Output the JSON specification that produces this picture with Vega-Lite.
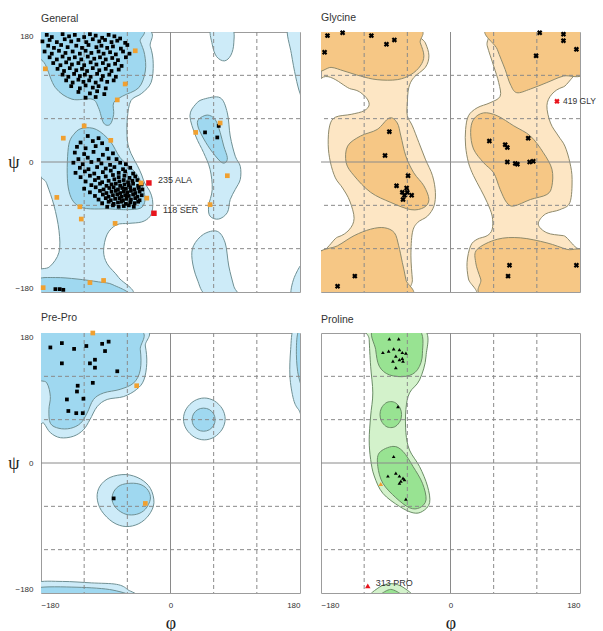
{
"$schema":"https://vega.github.io/schema/vega-lite/v6.json",
"background":"white",
"padding":{"left":7,"top":12,"right":0,"bottom":30},
"bounds":"flush",
"columns":2,
"spacing":{"row":41,"column":21},
"config":{"view":{"stroke":"#9c9c9c","strokeWidth":1},"font":"Liberation Sans"},
"datasets":{
"gv":[{"phi":-120,"k":"d"},{"phi":-60,"k":"d"},{"phi":0,"k":"s"},{"phi":60,"k":"d"},{"phi":120,"k":"d"}],
"gh":[{"psi":-120,"k":"d"},{"psi":-60,"k":"d"},{"psi":0,"k":"s"},{"psi":60,"k":"d"},{"psi":120,"k":"d"}],
"go":[
{"id":"a","phi":-185,"psi":185},{"id":"a","phi":-40,"psi":185},{"id":"a","phi":-28,"psi":160},{"id":"a","phi":-24,"psi":136},{"id":"a","phi":-27,"psi":110},{"id":"a","phi":-40,"psi":95},{"id":"a","phi":-55,"psi":85},{"id":"a","phi":-60,"psi":60},{"id":"a","phi":-60,"psi":30},{"id":"a","phi":-55,"psi":12},{"id":"a","phi":-46,"psi":-5},{"id":"a","phi":-40,"psi":-18},{"id":"a","phi":-36,"psi":-29},{"id":"a","phi":-29,"psi":-40},{"id":"a","phi":-25,"psi":-52},{"id":"a","phi":-25,"psi":-65},{"id":"a","phi":-29,"psi":-76},{"id":"a","phi":-40,"psi":-83},{"id":"a","phi":-58,"psi":-85},{"id":"a","phi":-75,"psi":-87},{"id":"a","phi":-88,"psi":-100},{"id":"a","phi":-93,"psi":-123},{"id":"a","phi":-88,"psi":-141},{"id":"a","phi":-72,"psi":-160},{"id":"a","phi":-58,"psi":-185},{"id":"a","phi":-185,"psi":-185},{"id":"a","phi":-185,"psi":-152},{"id":"a","phi":-168,"psi":-145},{"id":"a","phi":-155,"psi":-125},{"id":"a","phi":-155,"psi":-95},{"id":"a","phi":-162,"psi":-60},{"id":"a","phi":-172,"psi":-30},{"id":"a","phi":-185,"psi":5},
{"id":"b","phi":46,"psi":87},{"id":"b","phi":69,"psi":89},{"id":"b","phi":79,"psi":68},{"id":"b","phi":83,"psi":36},{"id":"b","phi":90,"psi":8},{"id":"b","phi":97,"psi":-6},{"id":"b","phi":97,"psi":-24},{"id":"b","phi":90,"psi":-38},{"id":"b","phi":83,"psi":-52},{"id":"b","phi":79,"psi":-70},{"id":"b","phi":67,"psi":-79},{"id":"b","phi":55,"psi":-75},{"id":"b","phi":53,"psi":-61},{"id":"b","phi":58,"psi":-38},{"id":"b","phi":55,"psi":-10},{"id":"b","phi":46,"psi":13},{"id":"b","phi":35,"psi":36},{"id":"b","phi":27,"psi":64},{"id":"b","phi":35,"psi":80},
{"id":"c","phi":57,"psi":185},{"id":"c","phi":85,"psi":185},{"id":"c","phi":88,"psi":165},{"id":"c","phi":84,"psi":148},{"id":"c","phi":75,"psi":140},{"id":"c","phi":64,"psi":146},{"id":"c","phi":58,"psi":163},
{"id":"d","phi":51,"psi":-185},{"id":"d","phi":37,"psi":-162},{"id":"d","phi":30,"psi":-135},{"id":"d","phi":32,"psi":-116},{"id":"d","phi":46,"psi":-100},{"id":"d","phi":65,"psi":-96},{"id":"d","phi":76,"psi":-112},{"id":"d","phi":81,"psi":-144},{"id":"d","phi":88,"psi":-172},{"id":"d","phi":92,"psi":-185},
{"id":"e","phi":163,"psi":185},{"id":"e","phi":168,"psi":150},{"id":"e","phi":174,"psi":118},{"id":"e","phi":180,"psi":95},{"id":"e","phi":186,"psi":85},{"id":"e","phi":186,"psi":185},
{"id":"f","phi":186,"psi":-140},{"id":"f","phi":172,"psi":-160},{"id":"f","phi":168,"psi":-186},{"id":"f","phi":186,"psi":-186}
],
"gi":[
{"id":"a","phi":-185,"psi":185},{"id":"a","phi":-48,"psi":185},{"id":"a","phi":-42,"psi":167},{"id":"a","phi":-36,"psi":149},{"id":"a","phi":-35,"psi":126},{"id":"a","phi":-44,"psi":103},{"id":"a","phi":-67,"psi":91},{"id":"a","phi":-79,"psi":82},{"id":"a","phi":-79,"psi":66},{"id":"a","phi":-84,"psi":52},{"id":"a","phi":-93,"psi":54},{"id":"a","phi":-100,"psi":75},{"id":"a","phi":-109,"psi":87},{"id":"a","phi":-137,"psi":87},{"id":"a","phi":-160,"psi":103},{"id":"a","phi":-174,"psi":135},{"id":"a","phi":-185,"psi":150},
{"id":"b","phi":-133,"psi":40},{"id":"b","phi":-121,"psi":47},{"id":"b","phi":-103,"psi":45},{"id":"b","phi":-84,"psi":29},{"id":"b","phi":-70,"psi":6},{"id":"b","phi":-55,"psi":-8},{"id":"b","phi":-45,"psi":-20},{"id":"b","phi":-40,"psi":-32},{"id":"b","phi":-36,"psi":-45},{"id":"b","phi":-36,"psi":-56},{"id":"b","phi":-42,"psi":-64},{"id":"b","phi":-60,"psi":-66},{"id":"b","phi":-84,"psi":-65},{"id":"b","phi":-126,"psi":-62},{"id":"b","phi":-142,"psi":-36},{"id":"b","phi":-142,"psi":20},
{"id":"c","phi":39,"psi":59},{"id":"c","phi":51,"psi":65},{"id":"c","phi":62,"psi":59},{"id":"c","phi":69,"psi":41},{"id":"c","phi":74,"psi":22},{"id":"c","phi":79,"psi":6},{"id":"c","phi":76,"psi":-1},{"id":"c","phi":69,"psi":1},{"id":"c","phi":55,"psi":18},{"id":"c","phi":44,"psi":36},{"id":"c","phi":38,"psi":50},
{"id":"d","phi":-185,"psi":-185},{"id":"d","phi":-185,"psi":-163},{"id":"d","phi":-160,"psi":-160},{"id":"d","phi":-130,"psi":-162},{"id":"d","phi":-100,"psi":-166},{"id":"d","phi":-80,"psi":-170},{"id":"d","phi":-64,"psi":-185}
],
"gp":[
{"phi":-172,"psi":176,"c":"f"},{"phi":-165,"psi":173,"c":"f"},{"phi":-150,"psi":177,"c":"f"},{"phi":-141,"psi":174,"c":"f"},{"phi":-133,"psi":176,"c":"f"},{"phi":-120,"psi":173,"c":"f"},{"phi":-112,"psi":177,"c":"f"},{"phi":-104,"psi":175,"c":"f"},{"phi":-95,"psi":172,"c":"f"},{"phi":-86,"psi":176,"c":"f"},{"phi":-78,"psi":174,"c":"f"},{"phi":-70,"psi":171,"c":"f"},
{"phi":-178,"psi":167,"c":"f"},{"phi":-168,"psi":169,"c":"f"},{"phi":-158,"psi":166,"c":"f"},{"phi":-147,"psi":170,"c":"f"},{"phi":-138,"psi":167,"c":"f"},{"phi":-128,"psi":169,"c":"f"},{"phi":-117,"psi":166,"c":"f"},{"phi":-108,"psi":170,"c":"f"},{"phi":-99,"psi":167,"c":"f"},{"phi":-91,"psi":169,"c":"f"},{"phi":-82,"psi":166,"c":"f"},{"phi":-74,"psi":168,"c":"f"},{"phi":-63,"psi":165,"c":"f"},
{"phi":-170,"psi":161,"c":"f"},{"phi":-162,"psi":158,"c":"f"},{"phi":-152,"psi":162,"c":"f"},{"phi":-143,"psi":159,"c":"f"},{"phi":-131,"psi":161,"c":"f"},{"phi":-123,"psi":158,"c":"f"},{"phi":-114,"psi":162,"c":"f"},{"phi":-103,"psi":159,"c":"f"},{"phi":-96,"psi":161,"c":"f"},{"phi":-88,"psi":158,"c":"f"},{"phi":-80,"psi":160,"c":"f"},{"phi":-69,"psi":157,"c":"f"},{"phi":-60,"psi":162,"c":"f"},
{"phi":-175,"psi":153,"c":"f"},{"phi":-165,"psi":150,"c":"f"},{"phi":-155,"psi":154,"c":"f"},{"phi":-146,"psi":151,"c":"f"},{"phi":-136,"psi":153,"c":"f"},{"phi":-126,"psi":150,"c":"f"},{"phi":-118,"psi":154,"c":"f"},{"phi":-110,"psi":151,"c":"f"},{"phi":-100,"psi":153,"c":"f"},{"phi":-93,"psi":150,"c":"f"},{"phi":-84,"psi":152,"c":"f"},{"phi":-76,"psi":149,"c":"f"},{"phi":-66,"psi":153,"c":"f"},{"phi":-57,"psi":150,"c":"f"},
{"phi":-168,"psi":145,"c":"f"},{"phi":-158,"psi":142,"c":"f"},{"phi":-150,"psi":146,"c":"f"},{"phi":-141,"psi":143,"c":"f"},{"phi":-133,"psi":145,"c":"f"},{"phi":-124,"psi":142,"c":"f"},{"phi":-115,"psi":146,"c":"f"},{"phi":-106,"psi":143,"c":"f"},{"phi":-98,"psi":145,"c":"f"},{"phi":-90,"psi":142,"c":"f"},{"phi":-81,"psi":144,"c":"f"},{"phi":-73,"psi":141,"c":"f"},{"phi":-62,"psi":145,"c":"f"},
{"phi":-163,"psi":137,"c":"f"},{"phi":-153,"psi":134,"c":"f"},{"phi":-145,"psi":138,"c":"f"},{"phi":-137,"psi":135,"c":"f"},{"phi":-128,"psi":137,"c":"f"},{"phi":-120,"psi":134,"c":"f"},{"phi":-111,"psi":138,"c":"f"},{"phi":-103,"psi":135,"c":"f"},{"phi":-94,"psi":137,"c":"f"},{"phi":-86,"psi":134,"c":"f"},{"phi":-77,"psi":136,"c":"f"},{"phi":-68,"psi":133,"c":"f"},
{"phi":-157,"psi":129,"c":"f"},{"phi":-148,"psi":126,"c":"f"},{"phi":-140,"psi":130,"c":"f"},{"phi":-131,"psi":127,"c":"f"},{"phi":-123,"psi":129,"c":"f"},{"phi":-116,"psi":126,"c":"f"},{"phi":-108,"psi":130,"c":"f"},{"phi":-99,"psi":127,"c":"f"},{"phi":-90,"psi":129,"c":"f"},{"phi":-82,"psi":126,"c":"f"},{"phi":-72,"psi":128,"c":"f"},
{"phi":-150,"psi":121,"c":"f"},{"phi":-142,"psi":118,"c":"f"},{"phi":-134,"psi":122,"c":"f"},{"phi":-126,"psi":119,"c":"f"},{"phi":-119,"psi":121,"c":"f"},{"phi":-111,"psi":118,"c":"f"},{"phi":-102,"psi":122,"c":"f"},{"phi":-94,"psi":119,"c":"f"},{"phi":-85,"psi":121,"c":"f"},{"phi":-76,"psi":118,"c":"f"},
{"phi":-145,"psi":113,"c":"f"},{"phi":-136,"psi":110,"c":"f"},{"phi":-128,"psi":114,"c":"f"},{"phi":-121,"psi":111,"c":"f"},{"phi":-113,"psi":113,"c":"f"},{"phi":-104,"psi":110,"c":"f"},{"phi":-96,"psi":114,"c":"f"},{"phi":-88,"psi":111,"c":"f"},{"phi":-79,"psi":113,"c":"f"},
{"phi":-138,"psi":105,"c":"f"},{"phi":-126,"psi":102,"c":"f"},{"phi":-118,"psi":106,"c":"f"},{"phi":-108,"psi":103,"c":"f"},{"phi":-100,"psi":105,"c":"f"},{"phi":-90,"psi":102,"c":"f"},
{"phi":-128,"psi":97,"c":"f"},{"phi":-112,"psi":95,"c":"f"},{"phi":-102,"psi":98,"c":"f"},{"phi":-92,"psi":94,"c":"f"},{"phi":-118,"psi":89,"c":"f"},{"phi":-104,"psi":90,"c":"f"},
{"phi":-115,"psi":36,"c":"f"},{"phi":-100,"psi":33,"c":"f"},
{"phi":-125,"psi":27,"c":"f"},{"phi":-108,"psi":29,"c":"f"},{"phi":-95,"psi":26,"c":"f"},
{"phi":-130,"psi":21,"c":"f"},{"phi":-118,"psi":19,"c":"f"},{"phi":-104,"psi":22,"c":"f"},{"phi":-88,"psi":18,"c":"f"},
{"phi":-133,"psi":13,"c":"f"},{"phi":-120,"psi":11,"c":"f"},{"phi":-107,"psi":14,"c":"f"},{"phi":-94,"psi":10,"c":"f"},{"phi":-80,"psi":12,"c":"f"},
{"phi":-128,"psi":4,"c":"f"},{"phi":-115,"psi":6,"c":"f"},{"phi":-100,"psi":3,"c":"f"},{"phi":-86,"psi":5,"c":"f"},{"phi":-75,"psi":4,"c":"f"},
{"phi":-135,"psi":-1,"c":"f"},{"phi":-122,"psi":-3,"c":"f"},{"phi":-110,"psi":0,"c":"f"},{"phi":-96,"psi":-2,"c":"f"},{"phi":-84,"psi":-4,"c":"f"},{"phi":-70,"psi":-1,"c":"f"},{"phi":-62,"psi":-3,"c":"f"},
{"phi":-126,"psi":-8,"c":"f"},{"phi":-114,"psi":-10,"c":"f"},{"phi":-102,"psi":-7,"c":"f"},{"phi":-90,"psi":-9,"c":"f"},{"phi":-78,"psi":-7,"c":"f"},{"phi":-66,"psi":-10,"c":"f"},{"phi":-56,"psi":-8,"c":"f"},
{"phi":-132,"psi":-15,"c":"f"},{"phi":-119,"psi":-13,"c":"f"},{"phi":-106,"psi":-16,"c":"f"},{"phi":-94,"psi":-14,"c":"f"},{"phi":-83,"psi":-12,"c":"f"},{"phi":-72,"psi":-15,"c":"f"},{"phi":-63,"psi":-13,"c":"f"},{"phi":-52,"psi":-16,"c":"f"},
{"phi":-125,"psi":-21,"c":"f"},{"phi":-112,"psi":-19,"c":"f"},{"phi":-100,"psi":-22,"c":"f"},{"phi":-90,"psi":-20,"c":"f"},{"phi":-80,"psi":-18,"c":"f"},{"phi":-72,"psi":-21,"c":"f"},{"phi":-64,"psi":-19,"c":"f"},{"phi":-57,"psi":-22,"c":"f"},{"phi":-49,"psi":-20,"c":"f"},
{"phi":-118,"psi":-27,"c":"f"},{"phi":-105,"psi":-25,"c":"f"},{"phi":-95,"psi":-28,"c":"f"},{"phi":-86,"psi":-26,"c":"f"},{"phi":-78,"psi":-24,"c":"f"},{"phi":-71,"psi":-27,"c":"f"},{"phi":-65,"psi":-25,"c":"f"},{"phi":-59,"psi":-28,"c":"f"},{"phi":-53,"psi":-26,"c":"f"},{"phi":-46,"psi":-25,"c":"f"},
{"phi":-110,"psi":-32,"c":"f"},{"phi":-98,"psi":-30,"c":"f"},{"phi":-89,"psi":-33,"c":"f"},{"phi":-82,"psi":-31,"c":"f"},{"phi":-76,"psi":-30,"c":"f"},{"phi":-70,"psi":-33,"c":"f"},{"phi":-64,"psi":-31,"c":"f"},{"phi":-58,"psi":-32,"c":"f"},{"phi":-52,"psi":-30,"c":"f"},{"phi":-45,"psi":-33,"c":"f"},{"phi":-40,"psi":-31,"c":"f"},
{"phi":-120,"psi":-37,"c":"f"},{"phi":-104,"psi":-35,"c":"f"},{"phi":-93,"psi":-38,"c":"f"},{"phi":-85,"psi":-36,"c":"f"},{"phi":-79,"psi":-35,"c":"f"},{"phi":-73,"psi":-38,"c":"f"},{"phi":-67,"psi":-36,"c":"f"},{"phi":-62,"psi":-37,"c":"f"},{"phi":-56,"psi":-35,"c":"f"},{"phi":-50,"psi":-38,"c":"f"},{"phi":-44,"psi":-36,"c":"f"},{"phi":-39,"psi":-38,"c":"f"},
{"phi":-112,"psi":-42,"c":"f"},{"phi":-98,"psi":-40,"c":"f"},{"phi":-89,"psi":-43,"c":"f"},{"phi":-82,"psi":-41,"c":"f"},{"phi":-76,"psi":-40,"c":"f"},{"phi":-70,"psi":-43,"c":"f"},{"phi":-65,"psi":-41,"c":"f"},{"phi":-60,"psi":-42,"c":"f"},{"phi":-55,"psi":-40,"c":"f"},{"phi":-49,"psi":-43,"c":"f"},{"phi":-43,"psi":-41,"c":"f"},
{"phi":-105,"psi":-47,"c":"f"},{"phi":-94,"psi":-45,"c":"f"},{"phi":-86,"psi":-48,"c":"f"},{"phi":-80,"psi":-46,"c":"f"},{"phi":-74,"psi":-45,"c":"f"},{"phi":-68,"psi":-48,"c":"f"},{"phi":-63,"psi":-46,"c":"f"},{"phi":-58,"psi":-47,"c":"f"},{"phi":-52,"psi":-45,"c":"f"},{"phi":-46,"psi":-48,"c":"f"},{"phi":-40,"psi":-46,"c":"f"},
{"phi":-100,"psi":-52,"c":"f"},{"phi":-90,"psi":-50,"c":"f"},{"phi":-83,"psi":-53,"c":"f"},{"phi":-77,"psi":-51,"c":"f"},{"phi":-71,"psi":-50,"c":"f"},{"phi":-66,"psi":-53,"c":"f"},{"phi":-61,"psi":-51,"c":"f"},{"phi":-55,"psi":-52,"c":"f"},{"phi":-49,"psi":-50,"c":"f"},{"phi":-43,"psi":-53,"c":"f"},
{"phi":-95,"psi":-57,"c":"f"},{"phi":-86,"psi":-55,"c":"f"},{"phi":-79,"psi":-58,"c":"f"},{"phi":-73,"psi":-56,"c":"f"},{"phi":-68,"psi":-55,"c":"f"},{"phi":-62,"psi":-58,"c":"f"},{"phi":-56,"psi":-56,"c":"f"},{"phi":-50,"psi":-57,"c":"f"},{"phi":-45,"psi":-55,"c":"f"},
{"phi":-88,"psi":-62,"c":"f"},{"phi":-80,"psi":-60,"c":"f"},{"phi":-72,"psi":-62,"c":"f"},{"phi":-65,"psi":-61,"c":"f"},{"phi":-58,"psi":-60,"c":"f"},{"phi":-51,"psi":-62,"c":"f"},
{"phi":-160,"psi":-176,"c":"f"},{"phi":-154,"psi":-176,"c":"f"},{"phi":-149,"psi":-177,"c":"f"},{"phi":48,"psi":41,"c":"f"},{"phi":65,"psi":34,"c":"f"},{"phi":67,"psi":50,"c":"f"},
{"phi":-49,"psi":154,"c":"a"},{"phi":-174,"psi":129,"c":"a"},{"phi":-63,"psi":108,"c":"a"},{"phi":-74,"psi":86,"c":"a"},{"phi":-120,"psi":50,"c":"a"},{"phi":-149,"psi":33,"c":"a"},{"phi":-83,"psi":30,"c":"a"},{"phi":-41,"psi":-29,"c":"a"},{"phi":-33,"psi":-50,"c":"a"},{"phi":-158,"psi":-49,"c":"a"},{"phi":-126,"psi":-62,"c":"a"},{"phi":-124,"psi":-79,"c":"a"},{"phi":-77,"psi":-85,"c":"a"},{"phi":-112,"psi":-167,"c":"a"},{"phi":-93,"psi":-164,"c":"a"},{"phi":-177,"psi":-174,"c":"a"},{"phi":35,"psi":41,"c":"a"},{"phi":69,"psi":54,"c":"a"},{"phi":79,"psi":-19,"c":"a"},{"phi":55,"psi":-59,"c":"a"},
{"phi":-30,"psi":-29,"c":"o","lab":"235 ALA"},{"phi":-23,"psi":-71,"c":"o","lab":"118 SER"}
],
"yw":[
{"id":"a","phi":-46,"psi":185},{"id":"a","phi":-35,"psi":165},{"id":"a","phi":-30,"psi":147},{"id":"a","phi":-35,"psi":131},{"id":"a","phi":-51,"psi":117},{"id":"a","phi":-58,"psi":103},{"id":"a","phi":-60,"psi":82},{"id":"a","phi":-60,"psi":64},{"id":"a","phi":-53,"psi":50},{"id":"a","phi":-44,"psi":27},{"id":"a","phi":-35,"psi":4},{"id":"a","phi":-25,"psi":-19},{"id":"a","phi":-21,"psi":-42},{"id":"a","phi":-23,"psi":-61},{"id":"a","phi":-32,"psi":-75},{"id":"a","phi":-46,"psi":-84},{"id":"a","phi":-53,"psi":-98},{"id":"a","phi":-55,"psi":-130},{"id":"a","phi":-53,"psi":-163},{"id":"a","phi":-51,"psi":-185},{"id":"a","phi":32,"psi":-185},{"id":"a","phi":25,"psi":-162},{"id":"a","phi":23,"psi":-139},{"id":"a","phi":28,"psi":-116},{"id":"a","phi":37,"psi":-107},{"id":"a","phi":51,"psi":-102},{"id":"a","phi":58,"psi":-93},{"id":"a","phi":58,"psi":-75},{"id":"a","phi":51,"psi":-56},{"id":"a","phi":42,"psi":-38},{"id":"a","phi":32,"psi":-19},{"id":"a","phi":25,"psi":-1},{"id":"a","phi":21,"psi":22},{"id":"a","phi":21,"psi":45},{"id":"a","phi":25,"psi":64},{"id":"a","phi":37,"psi":75},{"id":"a","phi":55,"psi":82},{"id":"a","phi":69,"psi":91},{"id":"a","phi":67,"psi":110},{"id":"a","phi":60,"psi":133},{"id":"a","phi":51,"psi":161},{"id":"a","phi":46,"psi":185},
{"id":"b","phi":-186,"psi":103},{"id":"b","phi":-138,"psi":101},{"id":"b","phi":-120,"psi":92},{"id":"b","phi":-113,"psi":80},{"id":"b","phi":-120,"psi":71},{"id":"b","phi":-138,"psi":66},{"id":"b","phi":-160,"psi":62},{"id":"b","phi":-168,"psi":50},{"id":"b","phi":-170,"psi":24},{"id":"b","phi":-167,"psi":0},{"id":"b","phi":-160,"psi":-22},{"id":"b","phi":-150,"psi":-36},{"id":"b","phi":-140,"psi":-54},{"id":"b","phi":-134,"psi":-78},{"id":"b","phi":-141,"psi":-94},{"id":"b","phi":-157,"psi":-104},{"id":"b","phi":-186,"psi":-108},
{"id":"c","phi":186,"psi":108},{"id":"c","phi":157,"psi":104},{"id":"c","phi":141,"psi":94},{"id":"c","phi":134,"psi":78},{"id":"c","phi":139,"psi":54},{"id":"c","phi":150,"psi":36},{"id":"c","phi":159,"psi":22},{"id":"c","phi":166,"psi":-1},{"id":"c","phi":169,"psi":-24},{"id":"c","phi":166,"psi":-56},{"id":"c","phi":152,"psi":-66},{"id":"c","phi":132,"psi":-72},{"id":"c","phi":122,"psi":-86},{"id":"c","phi":134,"psi":-98},{"id":"c","phi":157,"psi":-102},{"id":"c","phi":186,"psi":-105}
],
"yi":[
{"id":"a","phi":-186,"psi":186},{"id":"a","phi":-51,"psi":186},{"id":"a","phi":-42,"psi":165},{"id":"a","phi":-37,"psi":147},{"id":"a","phi":-42,"psi":133},{"id":"a","phi":-55,"psi":121},{"id":"a","phi":-74,"psi":114},{"id":"a","phi":-102,"psi":114},{"id":"a","phi":-125,"psi":119},{"id":"a","phi":-148,"psi":126},{"id":"a","phi":-166,"psi":131},{"id":"a","phi":-186,"psi":129},
{"id":"b","phi":-85,"psi":61},{"id":"b","phi":-74,"psi":54},{"id":"b","phi":-69,"psi":36},{"id":"b","phi":-62,"psi":8},{"id":"b","phi":-51,"psi":-15},{"id":"b","phi":-37,"psi":-33},{"id":"b","phi":-30,"psi":-52},{"id":"b","phi":-37,"psi":-63},{"id":"b","phi":-55,"psi":-66},{"id":"b","phi":-83,"psi":-56},{"id":"b","phi":-111,"psi":-42},{"id":"b","phi":-134,"psi":-19},{"id":"b","phi":-145,"psi":-1},{"id":"b","phi":-143,"psi":22},{"id":"b","phi":-125,"psi":36},{"id":"b","phi":-102,"psi":45},
{"id":"c","phi":-186,"psi":-130},{"id":"c","phi":-157,"psi":-116},{"id":"c","phi":-134,"psi":-102},{"id":"c","phi":-111,"psi":-93},{"id":"c","phi":-92,"psi":-91},{"id":"c","phi":-78,"psi":-98},{"id":"c","phi":-72,"psi":-116},{"id":"c","phi":-67,"psi":-139},{"id":"c","phi":-62,"psi":-163},{"id":"c","phi":-60,"psi":-186},{"id":"c","phi":-186,"psi":-186},
{"id":"d","phi":55,"psi":186},{"id":"d","phi":65,"psi":156},{"id":"d","phi":76,"psi":128},{"id":"d","phi":83,"psi":108},{"id":"d","phi":92,"psi":96},{"id":"d","phi":111,"psi":101},{"id":"d","phi":134,"psi":110},{"id":"d","phi":157,"psi":119},{"id":"d","phi":186,"psi":124},{"id":"d","phi":186,"psi":186},
{"id":"e","phi":32,"psi":59},{"id":"e","phi":46,"psi":68},{"id":"e","phi":65,"psi":64},{"id":"e","phi":88,"psi":50},{"id":"e","phi":111,"psi":36},{"id":"e","phi":129,"psi":13},{"id":"e","phi":141,"psi":-10},{"id":"e","phi":141,"psi":-33},{"id":"e","phi":134,"psi":-45},{"id":"e","phi":111,"psi":-52},{"id":"e","phi":88,"psi":-61},{"id":"e","phi":78,"psi":-56},{"id":"e","phi":69,"psi":-38},{"id":"e","phi":60,"psi":-15},{"id":"e","phi":46,"psi":-1},{"id":"e","phi":32,"psi":18},{"id":"e","phi":28,"psi":41},
{"id":"f","phi":51,"psi":-186},{"id":"f","phi":42,"psi":-162},{"id":"f","phi":35,"psi":-139},{"id":"f","phi":37,"psi":-121},{"id":"f","phi":65,"psi":-107},{"id":"f","phi":97,"psi":-105},{"id":"f","phi":134,"psi":-112},{"id":"f","phi":162,"psi":-121},{"id":"f","phi":186,"psi":-126},{"id":"f","phi":186,"psi":-186}
],
"yp":[
{"phi":-171,"psi":175,"c":"f"},{"phi":-150,"psi":179,"c":"f"},{"phi":-175,"psi":152,"c":"f"},{"phi":-110,"psi":175,"c":"f"},{"phi":-89,"psi":163,"c":"f"},{"phi":-78,"psi":169,"c":"f"},{"phi":-85,"psi":42,"c":"f"},{"phi":-91,"psi":9,"c":"f"},{"phi":-59,"psi":-19,"c":"f"},{"phi":-75,"psi":-33,"c":"f"},{"phi":-61,"psi":-36,"c":"f"},{"phi":-67,"psi":-42,"c":"f"},{"phi":-60,"psi":-42,"c":"f"},{"phi":-54,"psi":-46,"c":"f"},{"phi":-66,"psi":-52,"c":"f"},{"phi":-64,"psi":-46,"c":"f"},{"phi":-133,"psi":-158,"c":"f"},{"phi":-157,"psi":-172,"c":"f"},
{"phi":124,"psi":179,"c":"f"},{"phi":157,"psi":177,"c":"f"},{"phi":157,"psi":168,"c":"f"},{"phi":175,"psi":156,"c":"f"},{"phi":119,"psi":147,"c":"f"},{"phi":54,"psi":29,"c":"f"},{"phi":76,"psi":24,"c":"f"},{"phi":79,"psi":20,"c":"f"},{"phi":108,"psi":33,"c":"f"},{"phi":79,"psi":0,"c":"f"},{"phi":90,"psi":-2,"c":"f"},{"phi":93,"psi":-3,"c":"f"},{"phi":110,"psi":0,"c":"f"},{"phi":115,"psi":1,"c":"f"},{"phi":82,"psi":-143,"c":"f"},{"phi":80,"psi":-158,"c":"f"},{"phi":175,"psi":-143,"c":"f"},
{"phi":148,"psi":84,"c":"o","lab":"419 GLY"}
],
"po":[
{"id":"a","phi":-186,"psi":186},{"id":"a","phi":-42,"psi":186},{"id":"a","phi":-35,"psi":162},{"id":"a","phi":-33,"psi":138},{"id":"a","phi":-37,"psi":115},{"id":"a","phi":-47,"psi":102},{"id":"a","phi":-65,"psi":92},{"id":"a","phi":-88,"psi":88},{"id":"a","phi":-102,"psi":78},{"id":"a","phi":-112,"psi":60},{"id":"a","phi":-121,"psi":46},{"id":"a","phi":-135,"psi":37},{"id":"a","phi":-153,"psi":35},{"id":"a","phi":-167,"psi":42},{"id":"a","phi":-176,"psi":55},{"id":"a","phi":-186,"psi":65},
{"id":"b","phi":76,"psi":61},{"id":"b","phi":72,"psi":75},{"id":"b","phi":61,"psi":86},{"id":"b","phi":47,"psi":90},{"id":"b","phi":33,"psi":86},{"id":"b","phi":22,"psi":75},{"id":"b","phi":18,"psi":61},{"id":"b","phi":22,"psi":47},{"id":"b","phi":33,"psi":36},{"id":"b","phi":47,"psi":32},{"id":"b","phi":61,"psi":36},{"id":"b","phi":72,"psi":47},
{"id":"c","phi":-23,"psi":-55},{"id":"c","phi":-28,"psi":-35},{"id":"c","phi":-42,"psi":-22},{"id":"c","phi":-62,"psi":-16},{"id":"c","phi":-84,"psi":-20},{"id":"c","phi":-98,"psi":-32},{"id":"c","phi":-102,"psi":-48},{"id":"c","phi":-96,"psi":-66},{"id":"c","phi":-80,"psi":-82},{"id":"c","phi":-62,"psi":-88},{"id":"c","phi":-44,"psi":-84},{"id":"c","phi":-30,"psi":-72},
{"id":"d","phi":-186,"psi":-166},{"id":"d","phi":-150,"psi":-164},{"id":"d","phi":-110,"psi":-166},{"id":"d","phi":-75,"psi":-168},{"id":"d","phi":-60,"psi":-175},{"id":"d","phi":-55,"psi":-186},{"id":"d","phi":-186,"psi":-186},
{"id":"e","phi":186,"psi":186},{"id":"e","phi":171,"psi":186},{"id":"e","phi":167,"psi":157},{"id":"e","phi":166,"psi":120},{"id":"e","phi":171,"psi":88},{"id":"e","phi":178,"psi":74},{"id":"e","phi":186,"psi":70}
],
"pi":[
{"id":"a","phi":-186,"psi":186},{"id":"a","phi":-49,"psi":186},{"id":"a","phi":-42,"psi":157},{"id":"a","phi":-42,"psi":129},{"id":"a","phi":-51,"psi":111},{"id":"a","phi":-70,"psi":102},{"id":"a","phi":-93,"psi":97},{"id":"a","phi":-107,"psi":88},{"id":"a","phi":-116,"psi":69},{"id":"a","phi":-125,"psi":55},{"id":"a","phi":-139,"psi":48},{"id":"a","phi":-155,"psi":48},{"id":"a","phi":-167,"psi":55},{"id":"a","phi":-169,"psi":74},{"id":"a","phi":-167,"psi":92},{"id":"a","phi":-172,"psi":111},{"id":"a","phi":-186,"psi":122},
{"id":"b","phi":62,"psi":60},{"id":"b","phi":60,"psi":68},{"id":"b","phi":54,"psi":74},{"id":"b","phi":46,"psi":76},{"id":"b","phi":38,"psi":74},{"id":"b","phi":32,"psi":68},{"id":"b","phi":30,"psi":60},{"id":"b","phi":32,"psi":52},{"id":"b","phi":38,"psi":46},{"id":"b","phi":46,"psi":44},{"id":"b","phi":54,"psi":46},{"id":"b","phi":60,"psi":52},
{"id":"c","phi":-28,"psi":-50},{"id":"c","phi":-31,"psi":-38},{"id":"c","phi":-41,"psi":-30},{"id":"c","phi":-55,"psi":-28},{"id":"c","phi":-70,"psi":-31},{"id":"c","phi":-79,"psi":-40},{"id":"c","phi":-81,"psi":-52},{"id":"c","phi":-75,"psi":-63},{"id":"c","phi":-62,"psi":-71},{"id":"c","phi":-47,"psi":-71},{"id":"c","phi":-35,"psi":-64},
{"id":"d","phi":-186,"psi":-173},{"id":"d","phi":-130,"psi":-172},{"id":"d","phi":-80,"psi":-176},{"id":"d","phi":-62,"psi":-186},{"id":"d","phi":-186,"psi":-186},
{"id":"e","phi":186,"psi":186},{"id":"e","phi":177,"psi":180},{"id":"e","phi":175,"psi":150},{"id":"e","phi":178,"psi":120},{"id":"e","phi":186,"psi":105}
],
"pp":[
{"phi":-167,"psi":160,"c":"f"},{"phi":-151,"psi":166,"c":"f"},{"phi":-134,"psi":158,"c":"f"},{"phi":-117,"psi":162,"c":"f"},{"phi":-95,"psi":165,"c":"f"},{"phi":-86,"psi":168,"c":"f"},{"phi":-91,"psi":155,"c":"f"},{"phi":-151,"psi":138,"c":"f"},{"phi":-112,"psi":138,"c":"f"},{"phi":-105,"psi":143,"c":"f"},{"phi":-105,"psi":132,"c":"f"},{"phi":-74,"psi":127,"c":"f"},{"phi":-129,"psi":107,"c":"f"},{"phi":-130,"psi":99,"c":"f"},{"phi":-108,"psi":111,"c":"f"},{"phi":-144,"psi":88,"c":"f"},{"phi":-121,"psi":89,"c":"f"},{"phi":-142,"psi":72,"c":"f"},{"phi":-131,"psi":69,"c":"f"},{"phi":-122,"psi":69,"c":"f"},{"phi":-79,"psi":-49,"c":"f"},
{"phi":-108,"psi":180,"c":"a"},{"phi":-47,"psi":107,"c":"a"},{"phi":-35,"psi":-56,"c":"a"}
],
"ro":[
{"id":"a","phi":-39,"psi":186},{"id":"a","phi":-34,"psi":148},{"id":"a","phi":-43,"psi":115},{"id":"a","phi":-57,"psi":97},{"id":"a","phi":-62,"psi":74},{"id":"a","phi":-62,"psi":42},{"id":"a","phi":-57,"psi":18},{"id":"a","phi":-43,"psi":-5},{"id":"a","phi":-32,"psi":-32},{"id":"a","phi":-29,"psi":-55},{"id":"a","phi":-39,"psi":-67},{"id":"a","phi":-52,"psi":-69},{"id":"a","phi":-71,"psi":-60},{"id":"a","phi":-94,"psi":-42},{"id":"a","phi":-106,"psi":-18},{"id":"a","phi":-111,"psi":5},{"id":"a","phi":-113,"psi":32},{"id":"a","phi":-111,"psi":65},{"id":"a","phi":-108,"psi":97},{"id":"a","phi":-111,"psi":134},{"id":"a","phi":-113,"psi":171},{"id":"a","phi":-113,"psi":186},
{"id":"b","phi":-110,"psi":-186},{"id":"b","phi":-99,"psi":-172},{"id":"b","phi":-83,"psi":-167},{"id":"b","phi":-66,"psi":-172},{"id":"b","phi":-55,"psi":-186}
],
"ri":[
{"id":"a","phi":-106,"psi":186},{"id":"a","phi":-46,"psi":186},{"id":"a","phi":-39,"psi":152},{"id":"a","phi":-46,"psi":129},{"id":"a","phi":-62,"psi":120},{"id":"a","phi":-85,"psi":122},{"id":"a","phi":-99,"psi":134},{"id":"a","phi":-104,"psi":157},
{"id":"b","phi":-68,"psi":67},{"id":"b","phi":-70,"psi":76},{"id":"b","phi":-76,"psi":83},{"id":"b","phi":-83,"psi":85},{"id":"b","phi":-90,"psi":83},{"id":"b","phi":-96,"psi":76},{"id":"b","phi":-98,"psi":67},{"id":"b","phi":-96,"psi":58},{"id":"b","phi":-90,"psi":51},{"id":"b","phi":-83,"psi":49},{"id":"b","phi":-76,"psi":51},{"id":"b","phi":-70,"psi":58},
{"id":"c","phi":-80,"psi":23},{"id":"c","phi":-66,"psi":16},{"id":"c","phi":-52,"psi":-5},{"id":"c","phi":-39,"psi":-28},{"id":"c","phi":-34,"psi":-51},{"id":"c","phi":-43,"psi":-62},{"id":"c","phi":-57,"psi":-62},{"id":"c","phi":-76,"psi":-48},{"id":"c","phi":-94,"psi":-28},{"id":"c","phi":-101,"psi":-5},{"id":"c","phi":-99,"psi":14},
{"id":"d","phi":-99,"psi":-186},{"id":"d","phi":-83,"psi":-175},{"id":"d","phi":-66,"psi":-186}
],
"rp":[
{"phi":-85,"psi":172,"c":"f"},{"phi":-72,"psi":172,"c":"f"},{"phi":-94,"psi":153,"c":"f"},{"phi":-86,"psi":155,"c":"f"},{"phi":-79,"psi":158,"c":"f"},{"phi":-71,"psi":157,"c":"f"},{"phi":-67,"psi":153,"c":"f"},{"phi":-62,"psi":152,"c":"f"},{"phi":-76,"psi":148,"c":"f"},{"phi":-71,"psi":143,"c":"f"},{"phi":-67,"psi":145,"c":"f"},{"phi":-76,"psi":132,"c":"f"},{"phi":-80,"psi":141,"c":"f"},{"phi":-66,"psi":141,"c":"f"},{"phi":-73,"psi":78,"c":"f"},{"phi":-79,"psi":9,"c":"f"},{"phi":-87,"psi":-18,"c":"f"},{"phi":-76,"psi":-14,"c":"f"},{"phi":-71,"psi":-18,"c":"f"},{"phi":-66,"psi":-21,"c":"f"},{"phi":-69,"psi":-25,"c":"f"},{"phi":-64,"psi":-23,"c":"f"},{"phi":-71,"psi":-28,"c":"f"},{"phi":-62,"psi":-50,"c":"f"},
{"phi":-97,"psi":-29,"c":"a"},{"phi":-115,"psi":-170,"c":"o","lab":"313 PRO"}
]
},
"concat":[
{"width":259,"height":260,
"title":{"text":"General","anchor":"start","frame":"group","fontSize":10.5,"fontWeight":"normal","font":"Liberation Sans","color":"#333","offset":7},
"layer":[
{"data":{"name":"go"},"mark":{"type":"line","interpolate":"cardinal-closed","fill":"#cdebf8","stroke":"#6f9094","strokeWidth":1,"clip":true},
"encoding":{"x":{"field":"phi","type":"quantitative","scale":{"domain":[-180,180],"nice":false,"zero":false},"axis":null},
"y":{"field":"psi","type":"quantitative","scale":{"domain":[-180,180],"nice":false,"zero":false},"axis":{"values":[-180,0,180],"grid":false,"ticks":false,"domain":false,"labelFontSize":8,"labelColor":"#333","labelPadding":8,"labelFlush":true,"title":"ψ","titleAngle":0,"titleFontSize":18,"titleFont":"Liberation Serif","titleFontWeight":"normal","titleColor":"#222","titlePadding":-4,"titleAlign":"right","titleBaseline":"middle"}},
"detail":{"field":"id"},"order":{"value":null}}},
{"data":{"name":"gi"},"mark":{"type":"line","interpolate":"cardinal-closed","fill":"#9fd8f0","stroke":"#6f9094","strokeWidth":1,"clip":true},
"encoding":{"x":{"field":"phi","type":"quantitative","axis":null},"y":{"field":"psi","type":"quantitative"},"detail":{"field":"id"},"order":{"value":null}}},
{"data":{"name":"gv"},"mark":{"type":"rule","color":"#8a8a8a","strokeWidth":1},"encoding":{"x":{"field":"phi","type":"quantitative","axis":null},"strokeDash":{"field":"k","type":"nominal","scale":{"domain":["d","s"],"range":[[4,3],[1,0]]},"legend":null}}},
{"data":{"name":"gh"},"mark":{"type":"rule","color":"#8a8a8a","strokeWidth":1},"encoding":{"y":{"field":"psi","type":"quantitative"},"strokeDash":{"field":"k","type":"nominal","legend":null}}},
{"data":{"name":"gp"},"mark":{"type":"point","shape":"square","filled":true,"opacity":1},
"encoding":{"x":{"field":"phi","type":"quantitative","axis":null},"y":{"field":"psi","type":"quantitative"},
"color":{"field":"c","type":"nominal","scale":{"domain":["f","a","o"],"range":["#000000","#f0a030","#e8141c"]},"legend":null},
"size":{"field":"c","type":"nominal","scale":{"domain":["f","a","o"],"range":[14,30,30]},"legend":null}}},
{"data":{"name":"gp"},"transform":[{"filter":"isValid(datum.lab)"}],"mark":{"type":"text","align":"left","baseline":"middle","dx":9,"dy":-3,"fontSize":9,"font":"Liberation Sans","color":"#333"},
"encoding":{"x":{"field":"phi","type":"quantitative","axis":null},"y":{"field":"psi","type":"quantitative"},"text":{"field":"lab"}}}
]},
{"width":259,"height":260,
"title":{"text":"Glycine","anchor":"start","frame":"group","fontSize":10.5,"fontWeight":"normal","font":"Liberation Sans","color":"#333","offset":7},
"view":{"fill":"#fde6c4"},
"layer":[
{"data":{"name":"yw"},"mark":{"type":"line","interpolate":"cardinal-closed","fill":"#ffffff","stroke":"#8e8a6c","strokeWidth":1,"clip":true},
"encoding":{"x":{"field":"phi","type":"quantitative","scale":{"domain":[-180,180],"nice":false,"zero":false},"axis":null},
"y":{"field":"psi","type":"quantitative","scale":{"domain":[-180,180],"nice":false,"zero":false},"axis":null},
"detail":{"field":"id"},"order":{"value":null}}},
{"data":{"name":"yi"},"mark":{"type":"line","interpolate":"cardinal-closed","fill":"#f6c785","stroke":"#8e8a6c","strokeWidth":1,"clip":true},
"encoding":{"x":{"field":"phi","type":"quantitative","axis":null},"y":{"field":"psi","type":"quantitative","axis":null},"detail":{"field":"id"},"order":{"value":null}}},
{"data":{"name":"gv"},"mark":{"type":"rule","color":"#8a8a8a","strokeWidth":1},"encoding":{"x":{"field":"phi","type":"quantitative","axis":null},"strokeDash":{"field":"k","type":"nominal","scale":{"domain":["d","s"],"range":[[4,3],[1,0]]},"legend":null}}},
{"data":{"name":"gh"},"mark":{"type":"rule","color":"#8a8a8a","strokeWidth":1},"encoding":{"y":{"field":"psi","type":"quantitative","axis":null},"strokeDash":{"field":"k","type":"nominal","legend":null}}},
{"data":{"name":"yp"},"mark":{"type":"point","shape":"cross","angle":45,"filled":true,"opacity":1,"size":30},
"encoding":{"x":{"field":"phi","type":"quantitative","axis":null},"y":{"field":"psi","type":"quantitative","axis":null},
"color":{"field":"c","type":"nominal","scale":{"domain":["f","o"],"range":["#111111","#f0506a"]},"legend":null}}},
{"data":{"name":"yp"},"transform":[{"filter":"isValid(datum.lab)"}],"mark":{"type":"text","align":"left","baseline":"middle","dx":6,"dy":0,"fontSize":8.5,"font":"Liberation Sans","color":"#333"},
"encoding":{"x":{"field":"phi","type":"quantitative","axis":null},"y":{"field":"psi","type":"quantitative","axis":null},"text":{"field":"lab"}}}
]},
{"width":259,"height":260,
"title":{"text":"Pre-Pro","anchor":"start","frame":"group","fontSize":10.5,"fontWeight":"normal","font":"Liberation Sans","color":"#333","offset":7},
"layer":[
{"data":{"name":"po"},"mark":{"type":"line","interpolate":"cardinal-closed","fill":"#cdebf8","stroke":"#6f9094","strokeWidth":1,"clip":true},
"encoding":{"x":{"field":"phi","type":"quantitative","scale":{"domain":[-180,180],"nice":false,"zero":false},"axis":{"values":[-180,0,180],"grid":false,"ticks":false,"domain":false,"labelFontSize":8,"labelColor":"#333","labelPadding":8,"labelFlush":true,"title":"φ","titleFontSize":18,"titleFont":"Liberation Serif","titleFontWeight":"normal","titleColor":"#222","titlePadding":5}},
"y":{"field":"psi","type":"quantitative","scale":{"domain":[-180,180],"nice":false,"zero":false},"axis":{"values":[-180,0,180],"grid":false,"ticks":false,"domain":false,"labelFontSize":8,"labelColor":"#333","labelPadding":8,"labelFlush":true,"title":"ψ","titleAngle":0,"titleFontSize":18,"titleFont":"Liberation Serif","titleFontWeight":"normal","titleColor":"#222","titlePadding":-4,"titleAlign":"right","titleBaseline":"middle"}},
"detail":{"field":"id"},"order":{"value":null}}},
{"data":{"name":"pi"},"mark":{"type":"line","interpolate":"cardinal-closed","fill":"#9fd8f0","stroke":"#6f9094","strokeWidth":1,"clip":true},
"encoding":{"x":{"field":"phi","type":"quantitative"},"y":{"field":"psi","type":"quantitative"},"detail":{"field":"id"},"order":{"value":null}}},
{"data":{"name":"gv"},"mark":{"type":"rule","color":"#8a8a8a","strokeWidth":1},"encoding":{"x":{"field":"phi","type":"quantitative"},"strokeDash":{"field":"k","type":"nominal","scale":{"domain":["d","s"],"range":[[4,3],[1,0]]},"legend":null}}},
{"data":{"name":"gh"},"mark":{"type":"rule","color":"#8a8a8a","strokeWidth":1},"encoding":{"y":{"field":"psi","type":"quantitative"},"strokeDash":{"field":"k","type":"nominal","legend":null}}},
{"data":{"name":"pp"},"mark":{"type":"point","shape":"square","filled":true,"opacity":1},
"encoding":{"x":{"field":"phi","type":"quantitative"},"y":{"field":"psi","type":"quantitative"},
"color":{"field":"c","type":"nominal","scale":{"domain":["f","a","o"],"range":["#000000","#f0a030","#e8141c"]},"legend":null},
"size":{"field":"c","type":"nominal","scale":{"domain":["f","a","o"],"range":[14,30,30]},"legend":null}}}
]},
{"width":259,"height":260,
"title":{"text":"Proline","anchor":"start","frame":"group","fontSize":10.5,"fontWeight":"normal","font":"Liberation Sans","color":"#333","offset":7},
"layer":[
{"data":{"name":"ro"},"mark":{"type":"line","interpolate":"cardinal-closed","fill":"#d3f2cb","stroke":"#6a8d66","strokeWidth":1,"clip":true},
"encoding":{"x":{"field":"phi","type":"quantitative","scale":{"domain":[-180,180],"nice":false,"zero":false},"axis":{"values":[-180,0,180],"grid":false,"ticks":false,"domain":false,"labelFontSize":8,"labelColor":"#333","labelPadding":8,"labelFlush":true,"title":"φ","titleFontSize":18,"titleFont":"Liberation Serif","titleFontWeight":"normal","titleColor":"#222","titlePadding":5}},
"y":{"field":"psi","type":"quantitative","scale":{"domain":[-180,180],"nice":false,"zero":false},"axis":null},
"detail":{"field":"id"},"order":{"value":null}}},
{"data":{"name":"ri"},"mark":{"type":"line","interpolate":"cardinal-closed","fill":"#98e392","stroke":"#6a8d66","strokeWidth":1,"clip":true},
"encoding":{"x":{"field":"phi","type":"quantitative"},"y":{"field":"psi","type":"quantitative","axis":null},"detail":{"field":"id"},"order":{"value":null}}},
{"data":{"name":"gv"},"mark":{"type":"rule","color":"#8a8a8a","strokeWidth":1},"encoding":{"x":{"field":"phi","type":"quantitative"},"strokeDash":{"field":"k","type":"nominal","scale":{"domain":["d","s"],"range":[[4,3],[1,0]]},"legend":null}}},
{"data":{"name":"gh"},"mark":{"type":"rule","color":"#8a8a8a","strokeWidth":1},"encoding":{"y":{"field":"psi","type":"quantitative","axis":null},"strokeDash":{"field":"k","type":"nominal","legend":null}}},
{"data":{"name":"rp"},"mark":{"type":"point","shape":"triangle-up","filled":true,"opacity":1},
"encoding":{"x":{"field":"phi","type":"quantitative"},"y":{"field":"psi","type":"quantitative","axis":null},
"color":{"field":"c","type":"nominal","scale":{"domain":["f","a","o"],"range":["#000000","#f0a030","#e8141c"]},"legend":null},
"size":{"field":"c","type":"nominal","scale":{"domain":["f","a","o"],"range":[40,40,40]},"legend":null}}},
{"data":{"name":"rp"},"transform":[{"filter":"isValid(datum.lab)"}],"mark":{"type":"text","align":"left","baseline":"middle","dx":8,"dy":-3,"fontSize":9,"font":"Liberation Sans","color":"#333"},
"encoding":{"x":{"field":"phi","type":"quantitative"},"y":{"field":"psi","type":"quantitative","axis":null},"text":{"field":"lab"}}}
]}
]
}
